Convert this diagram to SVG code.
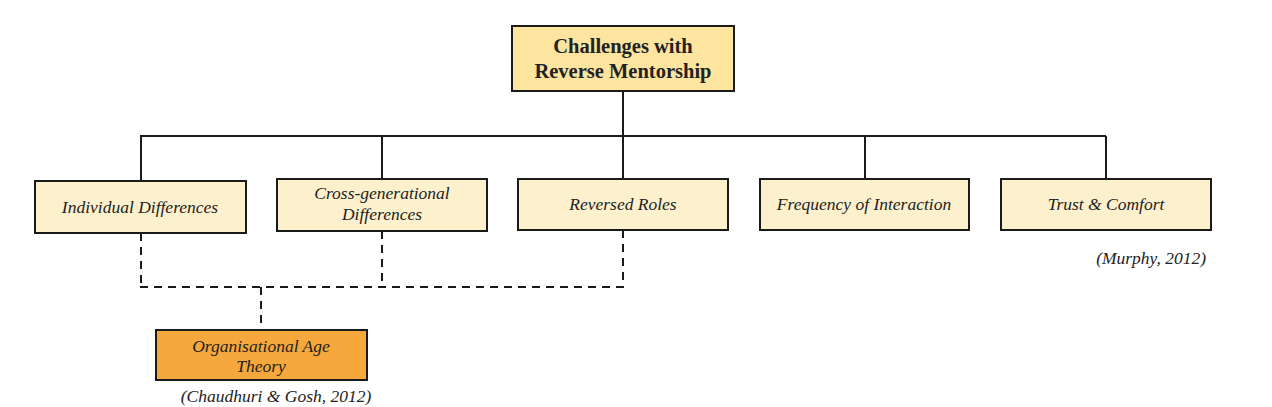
<svg xmlns="http://www.w3.org/2000/svg" width="1272" height="407" viewBox="0 0 1272 407">
<style>
.box{stroke:#1a1a1a;stroke-width:2}
.root{fill:#fde5a0}
.child{fill:#fdf1cd}
.org{fill:#f7a83c}
.t{font-family:"Liberation Serif",serif;fill:#222;text-anchor:middle}
.tb{font-size:20.5px;font-weight:bold}
.ti{font-size:17.5px;font-style:italic}
.ln{stroke:#1a1a1a;stroke-width:2;fill:none}
.dash{stroke:#1a1a1a;stroke-width:2;fill:none;stroke-dasharray:8,6}
</style>
<rect width="1272" height="407" fill="#ffffff"/>
<g id="connectors">
<line class="ln" x1="623" y1="91" x2="623" y2="136"/>
<line class="ln" x1="140" y1="136" x2="1106" y2="136"/>
<line class="ln" x1="141" y1="136" x2="141" y2="181"/>
<line class="ln" x1="382" y1="136" x2="382" y2="179"/>
<line class="ln" x1="623" y1="136" x2="623" y2="179"/>
<line class="ln" x1="865" y1="136" x2="865" y2="179"/>
<line class="ln" x1="1106" y1="136" x2="1106" y2="179"/>
<line class="dash" x1="141" y1="233" x2="141" y2="287"/>
<line class="dash" x1="382" y1="231" x2="382" y2="287"/>
<line class="dash" x1="623" y1="230" x2="623" y2="287"/>
<line class="dash" x1="140" y1="287" x2="624" y2="287"/>
<line class="dash" x1="261" y1="287" x2="261" y2="330"/>
</g>
<g id="root">
<rect class="box root" x="512" y="26" width="222" height="65"/>
<text class="t tb" x="623" y="53">Challenges with</text>
<text class="t tb" x="623" y="78">Reverse Mentorship</text>
</g>
<g id="individual">
<rect class="box child" x="35" y="181" width="211" height="52"/>
<text class="t ti" x="140" y="213">Individual Differences</text>
</g>
<g id="crossgen">
<rect class="box child" x="277" y="179" width="210" height="52"/>
<text class="t ti" x="382" y="199">Cross-generational</text>
<text class="t ti" x="382" y="220">Differences</text>
</g>
<g id="reversed">
<rect class="box child" x="518" y="179" width="210" height="51"/>
<text class="t ti" x="623" y="210">Reversed Roles</text>
</g>
<g id="frequency">
<rect class="box child" x="760" y="179" width="209" height="51"/>
<text class="t ti" x="864" y="210">Frequency of Interaction</text>
</g>
<g id="trust">
<rect class="box child" x="1001" y="179" width="210" height="51"/>
<text class="t ti" x="1106" y="210">Trust &amp; Comfort</text>
</g>
<text class="t ti" x="1206" y="264" style="text-anchor:end">(Murphy, 2012)</text>
<g id="orgage">
<rect class="box org" x="156" y="330" width="211" height="50"/>
<text class="t ti" x="261" y="352">Organisational Age</text>
<text class="t ti" x="261" y="372">Theory</text>
</g>
<text class="t ti" x="276" y="402">(Chaudhuri &amp; Gosh, 2012)</text>
</svg>
